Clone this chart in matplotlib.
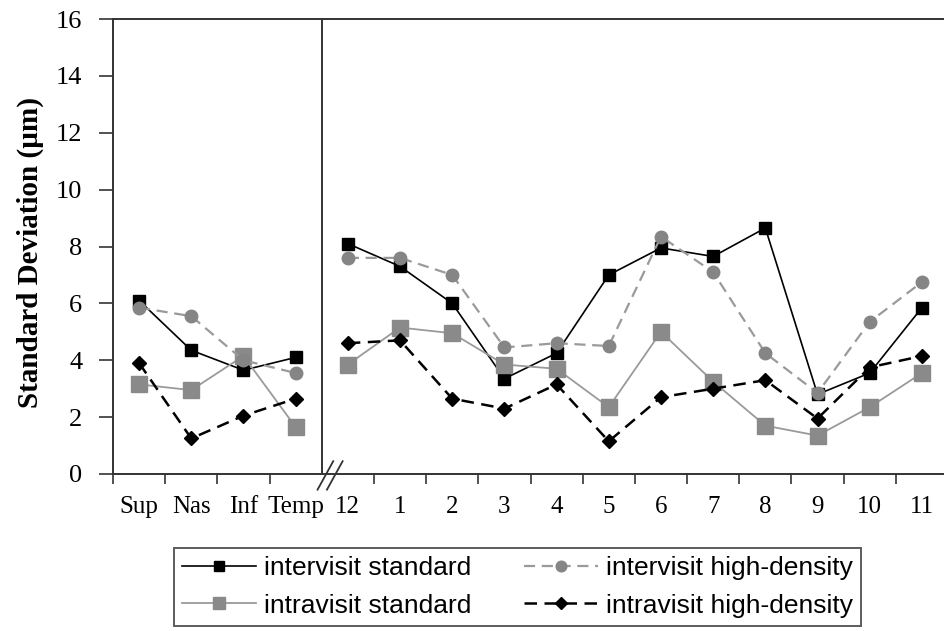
import numpy as np
import matplotlib
matplotlib.use("Agg")
import matplotlib.pyplot as plt

# categories: 4 quadrants + 12 clock hours
categories = ["Sup", "Nas", "Inf", "Temp",
              "12", "1", "2", "3", "4", "5", "6", "7", "8", "9", "10", "11"]

inter_std = [6.1, 4.35, 3.65, 4.1,
             8.1, 7.3, 6.0, 3.35, 4.25, 7.0, 7.95, 7.65, 8.65, 2.8, 3.55, 5.85]
inter_hd = [5.85, 5.55, 4.0, 3.55,
            7.6, 7.6, 7.0, 4.45, 4.6, 4.5, 8.35, 7.1, 4.25, 2.85, 5.35, 6.75]
intra_std = [3.15, 2.95, 4.15, 1.65,
             3.85, 5.15, 4.95, 3.85, 3.7, 2.35, 5.0, 3.25, 1.7, 1.35, 2.35, 3.55]
intra_hd = [3.9, 1.25, 2.05, 2.65,
            4.6, 4.7, 2.65, 2.3, 3.15, 1.15, 2.7, 3.0, 3.3, 1.95, 3.75, 4.15]

serif = "Liberation Serif"
sans = "Liberation Sans"

fig = plt.figure(figsize=(9.44, 6.31), dpi=100)
ax = fig.add_axes([113 / 944, 1 - 474 / 631, (948 - 113) / 944, (474 - 19) / 631])

x = np.arange(len(categories))
left = slice(0, 4)
right = slice(4, 16)

styles = [
    ("intervisit standard", inter_std,
     dict(color="black", lw=1.2, ls="-", marker="s", ms=9, mfc="black", mec="black")),
    ("intravisit standard", intra_std,
     dict(color="#9a9a9a", lw=1.3, ls="-", marker="s", ms=11, mfc="#8a8a8a", mec="#8a8a8a")),
    ("intervisit high-density", inter_hd,
     dict(color="#9a9a9a", lw=1.6, ls=(0, (5, 3)), marker="o", ms=9, mfc="#858585", mec="#858585")),
    ("intravisit high-density", intra_hd,
     dict(color="black", lw=1.8, ls=(0, (5, 3)), marker="D", ms=7.5, mfc="black", mec="black")),
]

handles = []
for label, vals, kw in styles:
    vals = np.array(vals)
    h, = ax.plot(x[left], vals[left], label=label, **kw)
    ax.plot(x[right], vals[right], **kw)
    handles.append(h)

# divider between quadrant and clock-hour sections
ax.axvline(3.5, color="#333333", lw=1.4)

ax.set_xlim(-0.5, 15.5)
ax.set_ylim(0, 16)
ax.set_yticks(range(0, 17, 2))
ax.set_yticklabels([str(v) for v in range(0, 17, 2)], fontfamily=serif, fontsize=19)

bounds = [b for b in np.arange(-0.5, 15.6, 1.0) if abs(b - 3.5) > 0.01]
ax.set_xticks(bounds)
ax.set_xticklabels([])
ax.set_xticks(x, minor=True)
ax.set_xticklabels(categories, minor=True, fontfamily=serif, fontsize=18)
ax.tick_params(axis="x", which="minor", length=0, pad=16)
ax.tick_params(axis="x", which="major", direction="out", length=7, width=1.2, color="#333333")
ax.tick_params(axis="y", which="major", direction="out", length=10, width=1.2,
               color="#333333", pad=12)

for s in ["left", "bottom", "top"]:
    ax.spines[s].set_linewidth(1.4)
    ax.spines[s].set_color("#333333")
ax.spines["right"].set_visible(False)

ax.set_ylabel("Standard Deviation (µm)", fontfamily=serif, fontsize=21,
              fontweight="bold")
ax.yaxis.set_label_coords((44 - 113) / 835, (474 - 253) / 455)

# axis break marks
for dx in [0.0, 0.18]:
    ax.plot([3.42 + dx, 3.72 + dx], [-0.55, 0.45], color="#333333", lw=1.3,
            clip_on=False)

leg = fig.legend(handles=handles, ncol=2, loc="center",
                 bbox_to_anchor=(0.548, 1 - 587 / 631),
                 prop={"family": sans, "size": 19},
                 frameon=True, fancybox=False, edgecolor="#333333",
                 handlelength=2.8, columnspacing=2.0, handletextpad=0.3,
                 labelspacing=0.5, borderpad=0.3, borderaxespad=0.2,
                 markerscale=0.85)
leg.get_frame().set_linewidth(1.4)

fig.savefig("out.png", dpi=100)
